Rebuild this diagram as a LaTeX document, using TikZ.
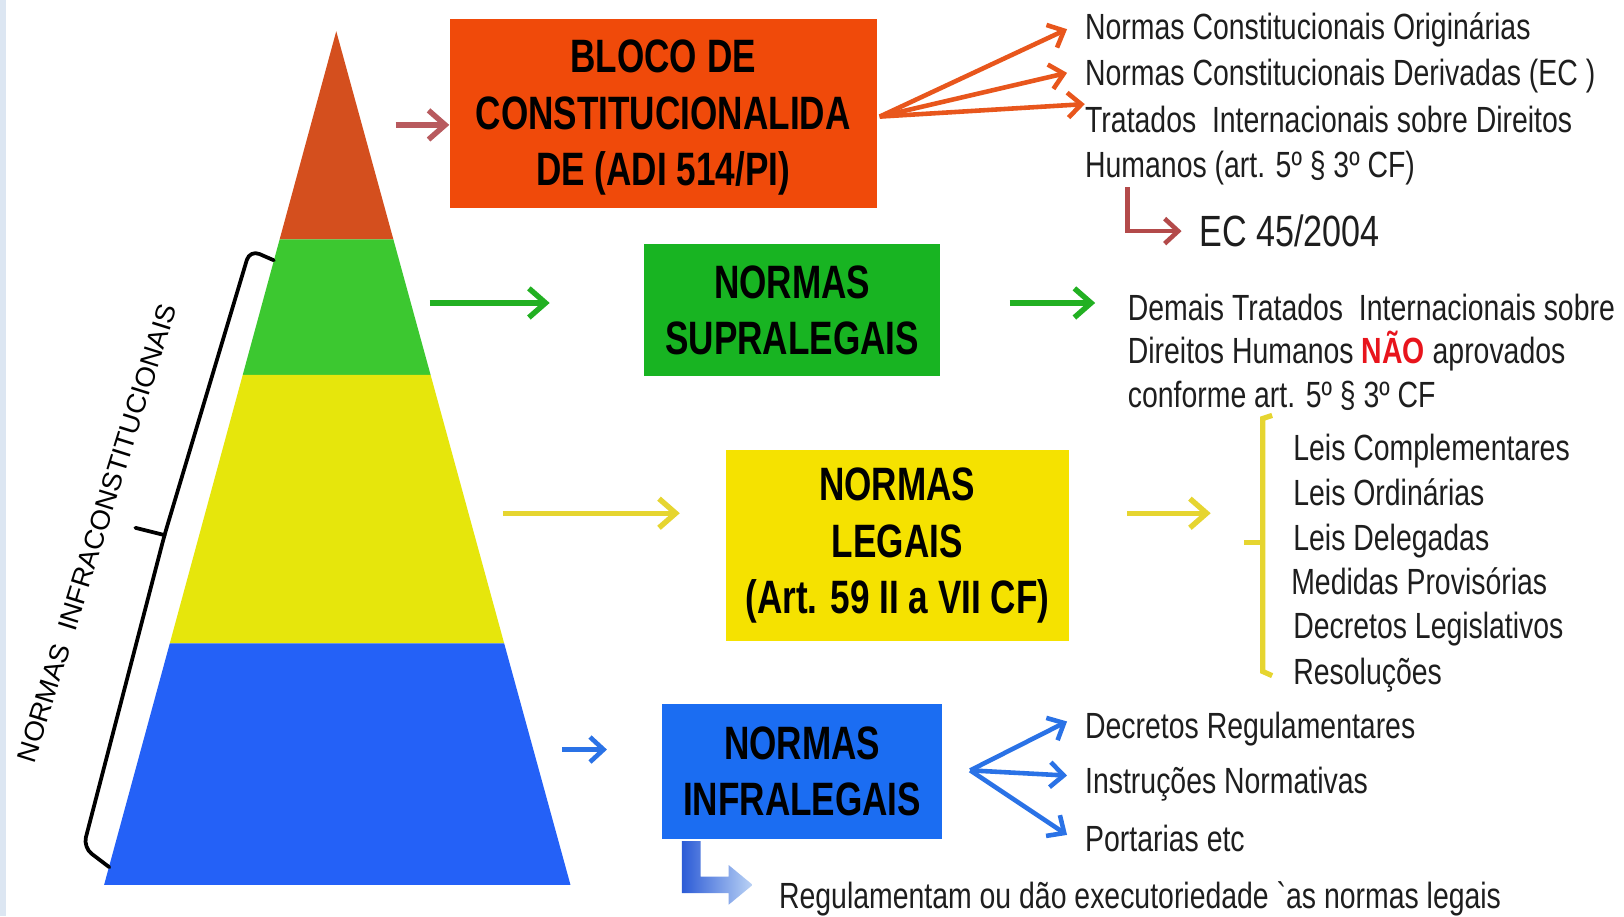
\documentclass[tikz,border=0pt]{standalone}
\usepackage{fontspec}
\setmainfont{Liberation Sans}
\newfontfamily\regf[FakeStretch=0.78]{Liberation Sans}
\newfontfamily\boxf[FakeStretch=0.75]{Liberation Sans}
\newfontfamily\rotf[FakeStretch=1.03]{Liberation Sans}
\usetikzlibrary{arrows.meta}
\definecolor{strip}{HTML}{DCE6F2}
\definecolor{pred}{HTML}{D44F1E}
\definecolor{pgreen}{HTML}{3CC830}
\definecolor{pyellow}{HTML}{E6E60C}
\definecolor{pblue}{HTML}{2461F7}
\definecolor{borange}{HTML}{F04A0A}
\definecolor{bgreen}{HTML}{18B422}
\definecolor{byellow}{HTML}{F5E200}
\definecolor{bblue}{HTML}{1B6DF2}
\definecolor{arose}{HTML}{B85A5E}
\definecolor{agreen}{HTML}{22B022}
\definecolor{ayellow}{HTML}{E6D530}
\definecolor{ablue}{HTML}{2A72E6}
\definecolor{aorange}{HTML}{E8561C}
\definecolor{aec}{HTML}{B34A4A}
\definecolor{txt}{HTML}{1E1E1E}
\definecolor{naored}{HTML}{E8141C}
\definecolor{gdark}{HTML}{2C5BD6}
\definecolor{glight}{HTML}{BBD3F5}
\begin{document}
\begin{tikzpicture}[x=0.5pt,y=-0.5pt,
  boxtext/.style={font=\boxf\bfseries\fontsize{22.5}{27}\selectfont, align=center, inner sep=0pt, text=black},
  item/.style={font=\regf\fontsize{17.5}{21}\selectfont, anchor=west, inner sep=0pt, text height=12.6pt, text depth=0pt, text=txt},
  arr/.style={line width=2.6pt, -{Straight Barb[length=8pt,width=14pt]}},
  fan/.style={line width=2.2pt, -{Straight Barb[length=6.5pt,width=12pt]}},
  bracestyle/.style={line width=1.8pt, line join=round, line cap=round}
]
\useasboundingbox (0,0) rectangle (1560,880);
\fill[white] (0,0) rectangle (1560,880);
\fill[strip] (0,0) rectangle (6,880);

% pyramid
\fill[pred] (323,30) -- (377.9,230) -- (268.6,230) -- cycle;
\fill[pgreen] (268.6,230) -- (377.9,230) -- (413.6,360) -- (233.2,360) -- cycle;
\fill[pyellow] (233.2,360) -- (413.6,360) -- (484.3,618) -- (163.1,618) -- cycle;
\fill[pblue] (163.1,618) -- (484.3,618) -- (548,850) -- (100,850) -- cycle;

% bracket and label
\coordinate (brT) at (263,250);
\coordinate (brJ) at (158,514);
\coordinate (brB) at (105,833);
\draw[bracestyle, rounded corners=5pt] (brT) -- (240,240) -- (brJ) -- (80,814) -- (brB);
\draw[bracestyle] (brJ) -- (130,507);
\node[font=\rotf\fontsize{13}{15}\selectfont, rotate=72.6, inner sep=0pt] (infra) at (93,512) {NORMAS\ \ INFRACONSTITUCIONAIS};

% boxes
\node[fill=borange, minimum width=205pt, minimum height=91pt, inner sep=0pt] (orb) at (637,109) {};
\node[boxtext] (orbt) at (637,113) {BLOCO DE\\CONSTITUCIONALIDA\\DE (ADI 514/PI)};
\node[boxtext, fill=bgreen, minimum width=142pt, minimum height=63.5pt] (grb) at (761,298) {NORMAS\\SUPRALEGAIS};
\node[boxtext, fill=byellow, minimum width=165pt, minimum height=92pt] (yeb) at (862,524) {NORMAS\\LEGAIS\\(Art. 59 II a VII CF)};
\node[boxtext, fill=bblue, minimum width=134.5pt, minimum height=64.5pt] (blb) at (770.5,741) {NORMAS\\INFRALEGAIS};

% arrows from pyramid
\coordinate (pr) at (380,120);
\coordinate (pg) at (413,291);
\coordinate (pgE) at (528,291);
\coordinate (py) at (483,493);
\coordinate (pyE) at (653,493);
\coordinate (pb) at (540,720);
\coordinate (pbE) at (583,720);
\draw[arr, arose] (pr) -- (pr -| orb.west);
\draw[arr, agreen] (pg) -- (pgE);
\draw[arr, ayellow] (py) -- (pyE);
\draw[fan, ablue] (pb) -- (pbE);

% top-right texts
\node[item] (t1) at (1042,25) {Normas Constitucionais Originárias};
\node[item] (t2) at (1042,70) {Normas Constitucionais Derivadas (EC )};
\node[item] (t3) at (1042,115) {Tratados\ \ Internacionais sobre Direitos};
\node[item] (t4) at (1042,158) {Humanos (art. 5º § 3º CF)};
\node[item, font=\regf\fontsize{21}{24}\selectfont, text height=15pt] (ec) at (1152,222) {EC 45/2004};

\coordinate (of) at (845,112);
\coordinate (o1) at (1025,28);
\coordinate (o2) at (1025,70);
\coordinate (o3) at (1042,100);
\draw[fan, aorange] (of) -- (o1);
\draw[fan, aorange] (of) -- (o2);
\draw[fan, aorange] (of) -- (o3);

\coordinate (ecs) at (1083,180);
\coordinate (ect) at (1135,222);
\draw[fan, aec] (ecs) |- (ect);

% supralegais
\coordinate (g2s) at (970,291);
\coordinate (g2e) at (1052,291);
\draw[arr, agreen] (g2s) -- (g2e);
\node[item] (d1) at (1083,295) {Demais Tratados\ \ Internacionais sobre};
\node[item] (d2) at (1083,337) {Direitos Humanos {\bfseries\color{naored}NÃO} aprovados};
\node[item] (d3) at (1083,379) {conforme art. 5º § 3º CF};

% legais
\coordinate (y2s) at (1083,493);
\coordinate (y2e) at (1163,493);
\draw[arr, ayellow] (y2s) -- (y2e);
\draw[ayellow, line width=2.5pt] (1222,399) -- (1213,402) -- (1213,645) -- (1222,649);
\draw[ayellow, line width=2.5pt] (1195,521) -- (1213,521);
\node[item] (l1) at (1242,430) {Leis Complementares};
\node[item] (l2) at (1242,473) {Leis Ordinárias};
\node[item] (l3) at (1242,516) {Leis Delegadas};
\node[item] (l4) at (1240,558) {Medidas Provisórias};
\node[item] (l5) at (1242,601) {Decretos Legislativos};
\node[item] (l6) at (1242,645) {Resoluções};

% infralegais
\node[item] (i1) at (1042,697) {Decretos Regulamentares};
\node[item] (i2) at (1042,750) {Instruções Normativas};
\node[item] (i3) at (1042,805) {Portarias etc};
\coordinate (bf) at (932,740);
\coordinate (b1) at (1025,693);
\coordinate (b2) at (1025,745);
\coordinate (b3) at (1025,802);
\draw[fan, ablue] (bf) -- (b1);
\draw[fan, ablue] (bf) -- (b2);
\draw[fan, ablue] (bf) -- (b3);

% gradient elbow arrow
\shade[left color=gdark, right color=glight] (655,808) -- (673,808) -- (673,842) -- (700,842) -- (700,831) -- (723,850) -- (700,869) -- (700,858) -- (655,858) -- cycle;
\node[item] (reg) at (748,860) {Regulamentam ou dão executoriedade `as normas legais};
\end{tikzpicture}
\end{document}
